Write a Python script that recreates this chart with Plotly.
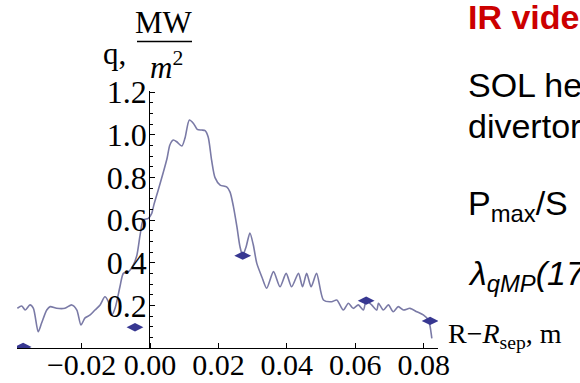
import plotly.graph_objects as go

# Heat-flux profile q(R - R_sep) along the divertor (MW/m^2)
r_profile = [-0.0388, -0.0375, -0.0365, -0.0351, -0.0341, -0.0327, -0.0317, -0.0302,
             -0.0292, -0.0273, -0.0249, -0.0229, -0.0214, -0.0202, -0.0190, -0.0175,
             -0.0161, -0.0146, -0.0132, -0.0122, -0.0112, -0.0102, -0.0088, -0.0078,
             -0.0063, -0.0049, -0.0039, -0.0029, -0.0020, -0.0005, 0.0005, 0.0011,
             0.0024, 0.0039, 0.0050, 0.0058, 0.0068, 0.0078, 0.0093, 0.0102,
             0.0115, 0.0127, 0.0138, 0.0151, 0.0161, 0.0170, 0.0180, 0.0190,
             0.0205, 0.0224, 0.0234, 0.0244, 0.0254, 0.0263, 0.0271, 0.0281,
             0.0292, 0.0302, 0.0312, 0.0327, 0.0341, 0.0361, 0.0380, 0.0398,
             0.0414, 0.0434, 0.0446, 0.0458, 0.0471, 0.0487, 0.0507, 0.0531,
             0.0546, 0.0565, 0.0580, 0.0594, 0.0609, 0.0624, 0.0632, 0.0648,
             0.0663, 0.0668, 0.0682, 0.0697, 0.0711, 0.0726, 0.0741, 0.0760,
             0.0780, 0.0799, 0.0814, 0.0819, 0.0824]
q_profile = [0.186, 0.197, 0.178, 0.202, 0.186, 0.076, 0.117, 0.178,
             0.194, 0.186, 0.186, 0.202, 0.178, 0.108, 0.141, 0.155,
             0.178, 0.202, 0.240, 0.217, 0.155, 0.188, 0.287, 0.350,
             0.358, 0.389, 0.431, 0.530, 0.600, 0.608, 0.631, 0.670,
             0.741, 0.825, 0.891, 0.952, 0.975, 0.967, 0.947, 0.983,
             1.069, 1.053, 1.025, 1.022, 1.019, 0.989, 0.881, 0.799,
             0.764, 0.755, 0.731, 0.662, 0.569, 0.475, 0.434, 0.475,
             0.539, 0.483, 0.398, 0.333, 0.280, 0.358, 0.287, 0.350,
             0.287, 0.350, 0.287, 0.350, 0.287, 0.350, 0.225, 0.217,
             0.225, 0.178, 0.210, 0.186, 0.202, 0.178, 0.222, 0.202,
             0.178, 0.210, 0.178, 0.202, 0.170, 0.194, 0.178, 0.186,
             0.170, 0.155, 0.131, 0.100, 0.045]

# Probe measurements
r_points = [-0.0371, -0.0044, 0.0271, 0.0632, 0.0819]
q_points = [0.005, 0.097, 0.433, 0.222, 0.127]

x_ticks = [-0.02, 0.00, 0.02, 0.04, 0.06, 0.08]
y_ticks = [0.2, 0.4, 0.6, 0.8, 1.0, 1.2]
x_tick_text = [f"{v:.2f}".replace("-", "\u2212") for v in x_ticks]
y_tick_text = [f"{v:.1f}" for v in y_ticks]

X_RANGE = [-0.0389, 0.0842]
Y_RANGE = [0.0, 1.205]

W, H = 580, 383
ML, MR, MT, MB = 17, 142, 91, 35
PW, PH = W - ML - MR, H - MT - MB


def px(x):
    return (x - ML) / PW


def py(y):
    return (H - MB - y) / PH


SERIF = "Liberation Serif, Times New Roman, serif"
SANS = "Liberation Sans, Arial, sans-serif"

fig = go.Figure()
fig.add_trace(go.Scatter(
    x=r_profile, y=q_profile, mode="lines",
    line=dict(color="rgb(122,122,166)", width=1.6, shape="spline", smoothing=0.7),
    hoverinfo="skip", showlegend=False,
))
fig.add_trace(go.Scatter(
    x=r_points, y=q_points, mode="markers",
    marker=dict(symbol="diamond-wide", size=12, color="rgb(55,55,145)"),
    showlegend=False,
))
# empty trace carrying the vertical axis drawn through R - R_sep = 0
fig.add_trace(go.Scatter(x=[None], y=[None], xaxis="x2", yaxis="y2",
                         showlegend=False, hoverinfo="skip"))

y_axis_pos = (0 - X_RANGE[0]) / (X_RANGE[1] - X_RANGE[0])
x_tick_font = dict(family=SERIF, size=30, color="black")
y_tick_font = dict(family=SERIF, size=32, color="black")

fig.update_layout(
    width=W, height=H,
    margin=dict(l=ML, r=MR, t=MT, b=MB, pad=0, autoexpand=False),
    paper_bgcolor="white", plot_bgcolor="rgba(0,0,0,0)",
    xaxis=dict(
        range=X_RANGE, showgrid=False, zeroline=False, automargin=False,
        showline=True, linecolor="black", linewidth=1,
        ticks="inside", ticklen=5, tickcolor="black",
        tickvals=x_ticks, ticktext=x_tick_text, tickangle=0,
        tickfont=x_tick_font, ticklabelstandoff=-10,
    ),
    yaxis=dict(range=Y_RANGE, visible=False, automargin=False),
    xaxis2=dict(domain=[y_axis_pos, 1], range=[0, 1], visible=False, anchor="y2",
                automargin=False),
    yaxis2=dict(
        range=Y_RANGE, anchor="x2", side="left", automargin=False,
        showgrid=False, zeroline=False,
        showline=True, linecolor="black", linewidth=1,
        ticks="inside", ticklen=5, tickcolor="black",
        tickvals=y_ticks, ticktext=y_tick_text,
        minor=dict(ticks="inside", ticklen=3, dtick=0.05, tick0=0, tickcolor="black"),
        tickfont=y_tick_font, ticklabelstandoff=-4,
    ),
)

annotations = [
    # vertical axis label: q, MW / m^2
    dict(x=px(101), y=py(53), text="q,", xanchor="left", yanchor="middle",
         font=dict(family=SERIF, size=31, color="black")),
    dict(x=px(164), y=py(22), text="MW", xanchor="center", yanchor="middle",
         font=dict(family=SERIF, size=31, color="black")),
    dict(x=px(166), y=py(66), text="<i>m</i><sup>2</sup>", xanchor="center", yanchor="middle",
         font=dict(family=SERIF, size=31, color="black")),
    # horizontal axis label
    dict(x=px(446), y=py(335), text="R\u2212<i>R</i><sub>sep</sub>, m", xanchor="left",
         yanchor="middle", font=dict(family=SERIF, size=28, color="black")),
    # side notes
    dict(x=px(466), y=py(17), text="<b>IR video</b>", xanchor="left", yanchor="middle",
         font=dict(family=SANS, size=34, color="rgb(204,0,0)")),
    dict(x=px(466), y=py(85), text="SOL heat", xanchor="left", yanchor="middle",
         font=dict(family=SANS, size=34, color="black")),
    dict(x=px(466), y=py(126), text="divertor", xanchor="left", yanchor="middle",
         font=dict(family=SANS, size=34, color="black")),
    dict(x=px(466), y=py(205), text="P<sub>max</sub>/S", xanchor="left", yanchor="middle",
         font=dict(family=SANS, size=34, color="black")),
    dict(x=px(466), y=py(275), text="<i>\u03bb<sub>qMP</sub>(17</i>", xanchor="left",
         yanchor="middle", font=dict(family=SANS, size=34, color="black")),
]
for a in annotations:
    a.update(xref="paper", yref="paper", showarrow=False)
fig.update_layout(annotations=annotations)

# fraction bar of the unit label
fig.add_shape(type="line", xref="paper", yref="paper",
              x0=px(137), x1=px(192), y0=py(41.5), y1=py(41.5),
              line=dict(color="black", width=1.3))

fig.write_html("out.html")
